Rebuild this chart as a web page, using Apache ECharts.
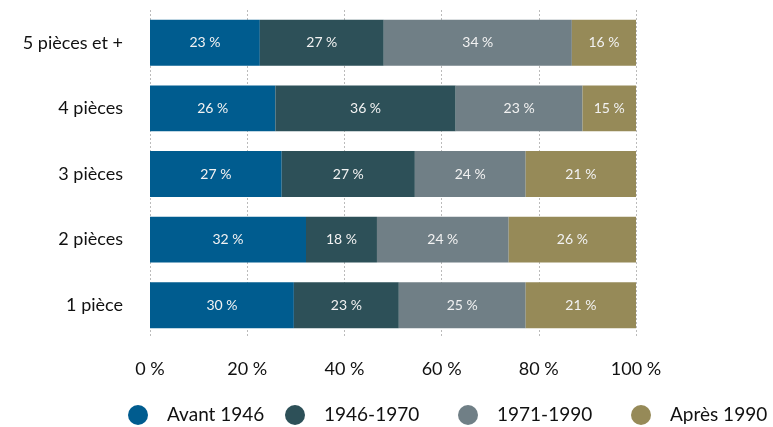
<!DOCTYPE html>
<html>
<head>
<meta charset="utf-8">
<script src="https://cdn.jsdelivr.net/npm/echarts@6/dist/echarts.min.js"></script>
<style>
html, body { margin: 0; padding: 0; background: #fff; }
#main { width: 773px; height: 427px; }
</style>
</head>
<body>
<div id="main"></div>
<script>
// categories, bottom to top
var categories = ["1 pièce", "2 pièces", "3 pièces", "4 pièces", "5 pièces et +"];
var seriesNames = ["Avant 1946", "1946-1970", "1971-1990", "Après 1990"];
// bar lengths as read on the picture (%)
var avant1946 = [29.6, 32.1, 27.1, 25.8, 22.6];
var p1946_1970 = [21.6, 14.6, 27.4, 37.1, 25.5];
var p1971_1990 = [26.1, 27.1, 22.8, 26.1, 38.7];
var apres1990 = [22.7, 26.2, 22.7, 11.0, 13.2];
// values printed inside the bars
var lblAvant = [30, 32, 27, 26, 23];
var lbl4670 = [23, 18, 27, 36, 27];
var lbl7190 = [25, 24, 24, 23, 34];
var lblApres = [21, 26, 21, 15, 16];
var xTicks = [0, 20, 40, 60, 80, 100];

var colors = ["#005c8f", "#2d5058", "#707f86", "#968a58"];
var fontFam = "Lato, 'Open Sans', sans-serif";
var legendLeft = [123, 280, 453, 626];

var myChart = echarts.init(document.getElementById("main"));

function makeSeries(i, data, labels) {
	return {
		name: seriesNames[i],
		type: "bar",
		stack: "total",
		barCategoryGap: "30%",
		data: data,
		itemStyle: { color: colors[i] },
		label: {
			show: true,
			position: "inside",
			color: "#f2f2f2",
			fontSize: 14,
			fontFamily: fontFam,
			formatter: function (p) { return labels[p.dataIndex] + " %"; }
		}
	};
}

// one legend per entry so each sits where the reference puts it
var legends = [];
for (var i = 0; i < seriesNames.length; i++) {
	legends.push({
		left: legendLeft[i],
		top: 400,
		icon: "circle",
		itemWidth: 48,
		itemHeight: 20,
		selectedMode: false,
		textStyle: { fontSize: 19, color: "#111", fontFamily: fontFam },
		data: [seriesNames[i]]
	});
}

var option = {
	animation: false,
	textStyle: { fontFamily: fontFam },
	grid: { left: 150, right: 137, top: 10, bottom: 89, containLabel: false },
	legend: legends,
	xAxis: {
		type: "value",
		min: xTicks[0],
		max: xTicks[xTicks.length - 1],
		interval: 20,
		axisLine: { show: false },
		axisTick: { show: false },
		axisLabel: {
			fontSize: 18,
			color: "#111",
			margin: 22,
			formatter: "{value} %"
		},
		splitLine: {
			show: true,
			lineStyle: { color: "#bbbbbb", type: [2, 2], width: 1 }
		}
	},
	yAxis: {
		type: "category",
		data: categories,
		axisLine: { show: false },
		axisTick: { show: false },
		axisLabel: { fontSize: 18, color: "#111", margin: 27 }
	},
	series: [
		makeSeries(0, avant1946, lblAvant),
		makeSeries(1, p1946_1970, lbl4670),
		makeSeries(2, p1971_1990, lbl7190),
		makeSeries(3, apres1990, lblApres)
	]
};
myChart.setOption(option);
</script>
</body>
</html>
